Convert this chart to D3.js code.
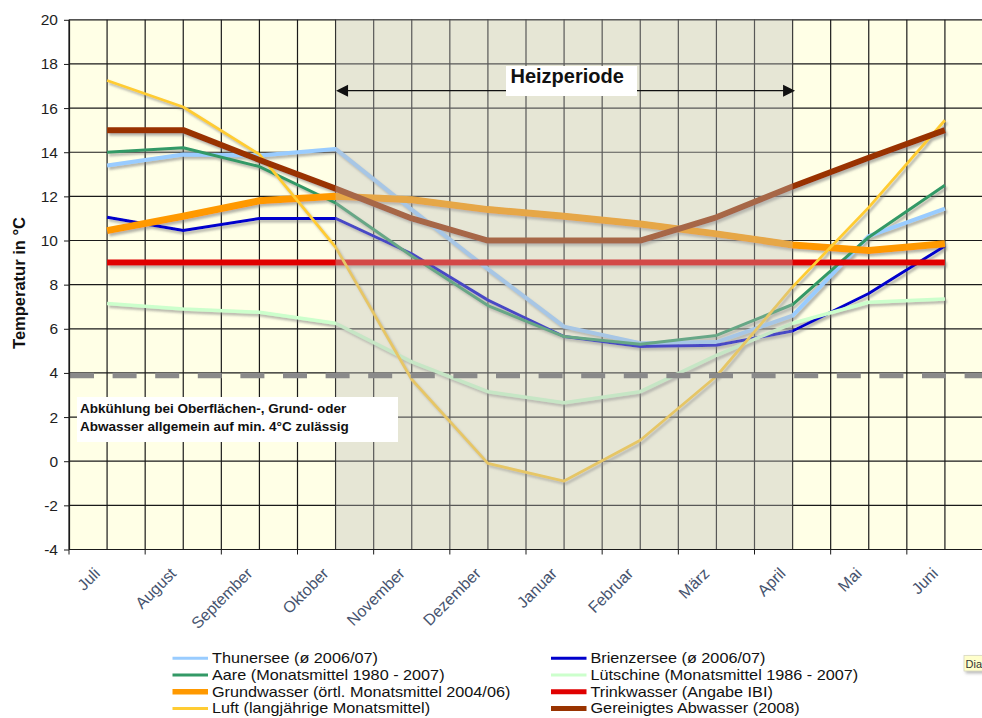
<!DOCTYPE html>
<html><head><meta charset="utf-8">
<script src="https://cdn.jsdelivr.net/npm/d3@7"></script>
<style>
html,body{margin:0;padding:0;background:#fff;overflow:hidden}
svg{display:block;font-family:"Liberation Sans",Arial,Helvetica,sans-serif}
</style></head>
<body><svg id="c" width="982" height="718"></svg>
<script>
const months = ["Juli","August","September","Oktober","November","Dezember","Januar","Februar","März","April","Mai","Juni"];
const yTicks = [-4,-2,0,2,4,6,8,10,12,14,16,18,20];

const thunersee  = [13.4, 13.9, 13.85, 14.15, 11.4, 8.7, 6.1, 5.35, 5.4, 6.6, 10.2, 11.45];
const brienzersee= [11.05, 10.45, 11.0, 11.0, 9.4, 7.3, 5.65, 5.2, 5.25, 5.9, 7.6, 9.75];
const aare       = [14.0, 14.2, 13.35, 11.7, 9.3, 7.05, 5.65, 5.3, 5.7, 7.1, 10.15, 12.5];
const luetschine = [7.15, 6.9, 6.75, 6.25, 4.5, 3.15, 2.65, 3.15, 4.8, 6.25, 7.2, 7.35];
const grundwasser= [10.45, 11.1, 11.8, 12.0, 11.85, 11.4, 11.1, 10.75, 10.3, 9.8, 9.55, 9.85];
const trinkwasser= [9, 9, 9, 9, 9, 9, 9, 9, 9, 9, 9, 9];
const luft       = [17.25, 16.05, 13.9, 9.7, 3.7, -0.1, -0.9, 0.95, 3.85, 7.9, 11.5, 15.45];
const abwasser   = [15.0, 15.0, 13.65, 12.35, 11.0, 10.0, 10.0, 10.0, 11.05, 12.45, 13.75, 15.0];

const seriesNames = ["Thunersee (ø 2006/07)","Brienzersee (ø 2006/07)","Aare (Monatsmittel 1980 - 2007)","Lütschine (Monatsmittel 1986 - 2007)","Grundwasser (örtl. Monatsmittel 2004/06)","Trinkwasser (Angabe IBI)","Luft (langjährige Monatsmittel)","Gereinigtes Abwasser (2008)"];
const seriesColors = ["#99ccff","#0000cc","#339966","#ccffcc","#ff9900","#e00000","#ffcc33","#993300"];
const seriesWidths = [4, 3, 3, 3.5, 7, 6, 2.8, 6];
const legendWidths = [3, 3, 3, 3, 5.5, 5, 3, 5];
const seriesData = [thunersee, brienzersee, aare, luetschine, grundwasser, trinkwasser, luft, abwasser];

const minLimit = 3.88;
const heizStart = "Oktober", heizEnd = "April";

const svg = d3.select("#c");
const L = 69, R = 983, T = 19.8, B = 549.5;
const x = d3.scalePoint().domain(months).range([L, R]).padding(0.5);
const y = d3.scaleLinear().domain([-4, 20]).range([B, T]);
const step = x.step();

const defs = svg.append("defs");
const f = defs.append("filter").attr("id","sh").attr("x","-5%").attr("y","-20%").attr("width","110%").attr("height","140%");
f.append("feDropShadow").attr("dx",2).attr("dy",2.5).attr("stdDeviation",1).attr("flood-color","#777").attr("flood-opacity",0.55);
const f2 = defs.append("filter").attr("id","sh2").attr("x","-20%").attr("y","-20%").attr("width","160%").attr("height","160%");
f2.append("feDropShadow").attr("dx",2).attr("dy",2).attr("stdDeviation",1.5).attr("flood-color","#888").attr("flood-opacity",0.6);

// plot background
svg.append("rect").attr("x",L).attr("y",T).attr("width",R-L).attr("height",B-T).attr("fill","#ffffe6");

// grid
const vlines = [];
months.forEach(m => { vlines.push(x(m) - step/2); vlines.push(x(m)); });
vlines.push(R);
svg.append("g").selectAll("line").data(vlines).join("line")
  .attr("x1",d=>d).attr("x2",d=>d).attr("y1",T).attr("y2",B)
  .attr("stroke","#1a1a1a").attr("stroke-width",1.2);
svg.append("g").selectAll("line").data(yTicks).join("line")
  .attr("x1",L).attr("x2",R).attr("y1",d=>y(d)).attr("y2",d=>y(d))
  .attr("stroke","#1a1a1a").attr("stroke-width",1.2);

// series
const line = d3.line().x((d,i)=>x(months[i])).y(d=>y(d));
const gl = svg.append("g").attr("filter","url(#sh)");
seriesData.forEach((s,i)=>{
  gl.append("path").attr("d",line(s)).attr("fill","none")
    .attr("stroke",seriesColors[i]).attr("stroke-width",seriesWidths[i])
    .attr("stroke-linejoin","round").attr("stroke-linecap","butt");
});

// heating period overlay
svg.append("rect").attr("x",x(heizStart)).attr("y",T).attr("width",x(heizEnd)-x(heizStart)).attr("height",B-T)
  .attr("fill","rgb(188,188,186)").attr("fill-opacity",0.38);

// min 4°C dashed line
svg.append("line").attr("x1",L+1).attr("x2",R).attr("y1",y(minLimit)).attr("y2",y(minLimit))
  .attr("stroke","#8a8a8a").attr("stroke-width",5.5).attr("stroke-dasharray","24 18.6");

// axes
const yAxis = d3.axisLeft(y).tickValues(yTicks).tickSize(5).tickSizeOuter(0).tickFormat(d3.format("d"));
const gy = svg.append("g").attr("transform",`translate(${L},0)`).call(yAxis);
gy.select(".domain").attr("stroke","#1a1a1a").attr("stroke-width",1.2);
gy.selectAll(".tick line").attr("stroke","#1a1a1a");
gy.selectAll(".tick text").attr("font-size",15.5).attr("fill","#1e1e1e").attr("x",-11)
  .attr("font-family","'Liberation Sans',Arial,sans-serif").text(d=> d<0 ? "-"+Math.abs(d) : d);

const gx = svg.append("g").attr("transform",`translate(0,${B})`);
gx.append("line").attr("x1",L).attr("x2",R).attr("stroke","#1a1a1a").attr("stroke-width",1.2);
gx.selectAll(".tk").data(months.map(m=>x(m)-step/2)).join("line").attr("class","tk")
  .attr("x1",d=>d).attr("x2",d=>d).attr("y1",0).attr("y2",5).attr("stroke","#1a1a1a");
gx.selectAll(".lb").data(months).join("text").attr("class","lb")
  .attr("transform",d=>`translate(${x(d)-6},${25}) rotate(-45)`)
  .attr("text-anchor","end").attr("font-size",16).attr("fill","#46536e")
  .text(d=>d);

// y title
svg.append("text").attr("transform",`translate(25,${283}) rotate(-90)`)
  .attr("text-anchor","middle").attr("font-size",16.5).attr("font-weight","bold").attr("fill","#111")
  .text("Temperatur  in °C");

// Heizperiode arrow
const ay = 90.7;
svg.append("line").attr("x1",x(heizStart)+8).attr("x2",x(heizEnd)-6).attr("y1",ay).attr("y2",ay)
  .attr("stroke","#111").attr("stroke-width",1.2);
svg.append("path").attr("d",`M${x(heizStart)+0.5},${ay} l12,-6 l0,12 z`).attr("fill","#111");
svg.append("path").attr("d",`M${x(heizEnd)+2.5},${ay} l-12,-6 l0,12 z`).attr("fill","#111");
svg.append("rect").attr("x",506).attr("y",66).attr("width",131).attr("height",30).attr("fill","#fff");
svg.append("text").attr("x",510.5).attr("y",82.7).attr("font-size",20).attr("font-weight","bold").attr("fill","#111")
  .text("Heizperiode");

// note box
svg.append("rect").attr("x",77).attr("y",397).attr("width",321).attr("height",45).attr("fill","#fff");
svg.append("text").attr("x",80).attr("y",412.5).attr("font-size",13.5).attr("font-weight","bold").attr("fill","#111")
  .text("Abkühlung bei Oberflächen-, Grund- oder");
svg.append("text").attr("x",80).attr("y",430.5).attr("font-size",13.5).attr("font-weight","bold").attr("fill","#111")
  .text("Abwasser allgemein auf min. 4°C zulässig");

// legend
const leg = svg.append("g");
seriesNames.forEach((n,i)=>{
  const col = i % 2, row = Math.floor(i/2);
  const lx = col ? 551 : 172.5, by = 663.3 + row*16.7;
  leg.append("line").attr("x1",lx).attr("x2",lx+35.5).attr("y1",by-5).attr("y2",by-5)
    .attr("stroke",seriesColors[i]).attr("stroke-width",legendWidths[i]);
  leg.append("text").attr("transform",`translate(${lx+39.5},${by}) scale(1.097,1)`)
    .attr("font-size",14.8).attr("font-family","'Liberation Sans',Arial,sans-serif").attr("fill","#111")
    .text(n);
});

// tooltip fragment
svg.append("rect").attr("x",964).attr("y",655.5).attr("width",30).attr("height",15.5)
  .attr("fill","#ffffcc").attr("stroke","#d8d8c0").attr("stroke-width",0.8).attr("filter","url(#sh2)");
svg.append("text").attr("x",965.5).attr("y",667.5).attr("font-size",11).attr("fill","#333").text("Dia");
</script></body></html>
